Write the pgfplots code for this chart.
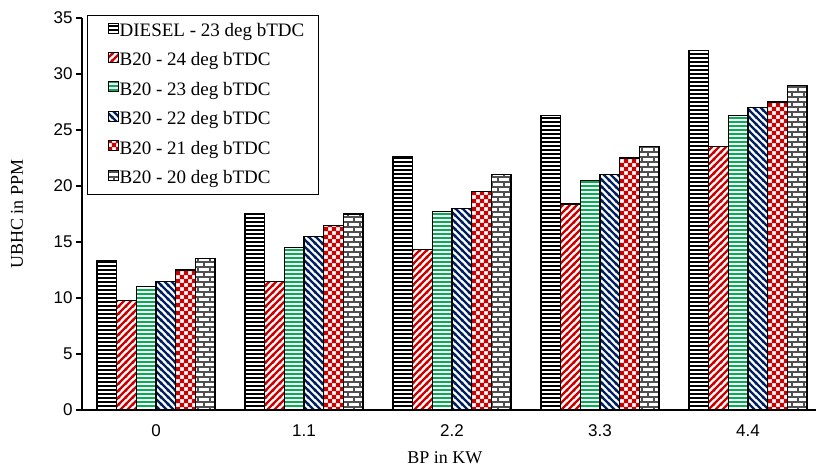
\documentclass[border=0pt]{standalone}
\usepackage{pgfplots}
\pgfplotsset{compat=1.18}
\usepackage{fontspec}
\setmainfont{Liberation Serif}
\newfontfamily\arialf{Liberation Sans}
\usetikzlibrary{patterns}
\definecolor{myred}{RGB}{204,0,0}
\definecolor{mygreen}{RGB}{0,176,80}
\definecolor{mynavy}{RGB}{0,32,96}
\definecolor{mybrick}{RGB}{80,80,80}

\pgfdeclarepatternformonly{myhl}{\pgfqpoint{-1pt}{-0.2pt}}{\pgfqpoint{5pt}{2.3pt}}{\pgfqpoint{4pt}{4pt}}{%
  \pgfpathrectangle{\pgfqpoint{-1pt}{0pt}}{\pgfqpoint{6pt}{2.1pt}}\pgfusepath{fill}}
\pgfdeclarepatternformonly{myne}{\pgfqpoint{-1pt}{-1pt}}{\pgfqpoint{8pt}{8pt}}{\pgfqpoint{7pt}{7pt}}{%
  \pgfsetlinewidth{2.4pt}%
  \pgfpathmoveto{\pgfqpoint{-1pt}{-1pt}}\pgfpathlineto{\pgfqpoint{8pt}{8pt}}%
  \pgfpathmoveto{\pgfqpoint{-1pt}{6pt}}\pgfpathlineto{\pgfqpoint{1pt}{8pt}}%
  \pgfpathmoveto{\pgfqpoint{6pt}{-1pt}}\pgfpathlineto{\pgfqpoint{8pt}{1pt}}%
  \pgfusepath{stroke}}
\pgfdeclarepatternformonly{mynw}{\pgfqpoint{-1pt}{-1pt}}{\pgfqpoint{8pt}{8pt}}{\pgfqpoint{7pt}{7pt}}{%
  \pgfsetlinewidth{2.4pt}%
  \pgfpathmoveto{\pgfqpoint{-1pt}{8pt}}\pgfpathlineto{\pgfqpoint{8pt}{-1pt}}%
  \pgfpathmoveto{\pgfqpoint{-1pt}{1pt}}\pgfpathlineto{\pgfqpoint{1pt}{-1pt}}%
  \pgfpathmoveto{\pgfqpoint{6pt}{8pt}}\pgfpathlineto{\pgfqpoint{8pt}{6pt}}%
  \pgfusepath{stroke}}
\pgfdeclarepatternformonly{mycheck}{\pgfqpoint{-0.3pt}{-0.3pt}}{\pgfqpoint{8.3pt}{8.3pt}}{\pgfqpoint{8pt}{8pt}}{%
  \pgfpathrectangle{\pgfqpoint{-0.2pt}{-0.2pt}}{\pgfqpoint{4.4pt}{4.4pt}}%
  \pgfpathrectangle{\pgfqpoint{3.8pt}{3.8pt}}{\pgfqpoint{4.4pt}{4.4pt}}\pgfusepath{fill}}
\pgfdeclarepatternformonly{mybricks}{\pgfqpoint{-1pt}{-1pt}}{\pgfqpoint{13pt}{11pt}}{\pgfqpoint{12pt}{10pt}}{%
  \pgfsetlinewidth{1.3pt}%
  \pgfpathmoveto{\pgfqpoint{-1pt}{0pt}}\pgfpathlineto{\pgfqpoint{13pt}{0pt}}%
  \pgfpathmoveto{\pgfqpoint{-1pt}{5pt}}\pgfpathlineto{\pgfqpoint{13pt}{5pt}}%
  \pgfpathmoveto{\pgfqpoint{0pt}{0pt}}\pgfpathlineto{\pgfqpoint{0pt}{5pt}}%
  \pgfpathmoveto{\pgfqpoint{6pt}{5pt}}\pgfpathlineto{\pgfqpoint{6pt}{10pt}}%
  \pgfusepath{stroke}}

\begin{document}
\begin{tikzpicture}
\useasboundingbox (0,0) rectangle (816pt,467pt);
\begin{axis}[
  at={(82pt,57pt)}, anchor=south west,
  scale only axis, width=740pt, height=392pt,
  xmin=-0.5, xmax=4.5, ymin=0, ymax=35,
  axis x line*=bottom, axis y line*=left,
  axis line style={line width=1.3pt},
  ybar=0pt, bar width=19.7pt,
  xtick={0,1,2,3,4}, xticklabels={0,1.1,2.2,3.3,4.4},
  xtick style={draw=none},
  minor xtick={-0.5,0.5,1.5,2.5,3.5,4.5},
  minor tick length=6pt,
  ytick={0,5,...,35},
  major tick length=6pt,
  tick align=outside,
  tick style={black, line width=1.2pt},
  /pgf/number format/assume math mode=true,
  ticklabel style={font=\arialf\fontsize{17}{17}\selectfont},
  xticklabel style={yshift=-5pt},
  ylabel={UBHC in PPM}, xlabel={BP in KW},
  every axis y label/.style={at={(axis description cs:-0.088,0.5)}, rotate=90, anchor=center, font=\fontsize{18}{18}\selectfont},
  every axis x label/.style={at={(axis description cs:0.4905,-0.1224)}, anchor=center, font=\fontsize{18}{18}\selectfont},
  legend cell align=left,
  legend style={at={(axis description cs:0.00676,1.0077)}, anchor=north west,
    draw=black, line width=1.2pt, font=\fontsize{19}{19}\selectfont,
    inner xsep=14pt, inner ysep=7pt, row sep=11.4pt,
    nodes={inner sep=0pt, text height=13pt, text depth=4pt}},
  legend image code/.code={\path[draw=none, fill=none, pattern=none] (0pt,0pt) rectangle (18pt,1pt); \draw[#1, line width=1pt] (7pt,-1pt) rectangle (17pt,9pt);},
  every axis plot/.append style={draw=black, line width=1.3pt},
]
\addplot[pattern=myhl, pattern color=black] coordinates {(0,13.3) (1,17.5) (2,22.6) (3,26.3) (4,32.1)};
\addplot[pattern=myne, pattern color=myred] coordinates {(0,9.8) (1,11.5) (2,14.3) (3,18.4) (4,23.5)};
\addplot[pattern=myhl, pattern color=mygreen] coordinates {(0,11.0) (1,14.5) (2,17.7) (3,20.5) (4,26.3)};
\addplot[pattern=mynw, pattern color=mynavy] coordinates {(0,11.5) (1,15.5) (2,18.0) (3,21.0) (4,27.0)};
\addplot[pattern=mycheck, pattern color=myred] coordinates {(0,12.5) (1,16.5) (2,19.5) (3,22.5) (4,27.5)};
\addplot[pattern=mybricks, pattern color=mybrick] coordinates {(0,13.5) (1,17.5) (2,21.0) (3,23.5) (4,29.0)};
\legend{DIESEL - 23 deg bTDC, B20 - 24 deg bTDC, B20 - 23 deg bTDC, B20 - 22 deg bTDC, B20 - 21 deg bTDC, B20 - 20 deg bTDC}
\end{axis}
\end{tikzpicture}
\end{document}
